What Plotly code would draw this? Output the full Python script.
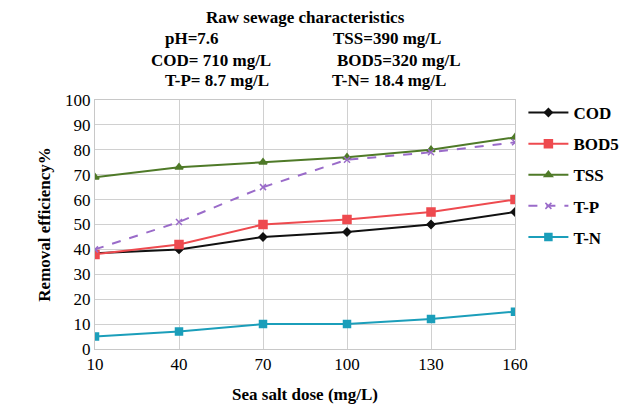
import plotly.graph_objects as go

doses = [10, 40, 70, 100, 130, 160]
cod = [38.5, 40, 45, 47, 50, 55]
bod5 = [38, 42, 50, 52, 55, 60]
tss = [69, 73, 75, 77, 80, 85]
tp = [40, 51, 65, 76, 79, 83]
tn = [5, 7, 10, 10, 12, 15]
y_ticks = list(range(0, 101, 10))

FONT = "Liberation Serif"
W, H = 636, 412
ML, MR, MT, MB = 95, 117, 100, 60
PW, PH = W - ML - MR, H - MT - MB

series = [
    ("COD", cod, "#111111", "diamond", 6, "solid"),
    ("BOD5", bod5, "#EE4A4F", "square", 8, "solid"),
    ("TSS", tss, "#4F7A28", "triangle-up", 7, "solid"),
    ("T-P", tp, "#9A6BC9", "x-thin", 6, "dash"),
    ("T-N", tn, "#1B9EBA", "square", 7, "solid"),
]

fig = go.Figure()
for name, vals, color, sym, size, dash in series:
    fig.add_trace(go.Scatter(
        x=doses, y=vals, name=name, legendgroup=name,
        mode="lines+markers",
        line=dict(color=color, width=2, dash=dash),
        marker=dict(symbol=sym, size=size, color=color,
                    line=dict(color=color, width=1.5)),
    ))

fig.update_layout(
    width=W, height=H,
    margin=dict(l=ML, r=MR, t=MT, b=MB),
    paper_bgcolor="white", plot_bgcolor="white",
    font=dict(family=FONT, color="black"),
    showlegend=True,
    legend=dict(x=1.02, y=1.02, xanchor="left", yanchor="top",
                font=dict(family=FONT, size=17, color="black", weight="bold"),
                tracegroupgap=6, itemwidth=40,
                bgcolor="rgba(0,0,0,0)"),
    xaxis=dict(range=[10, 160], tickvals=doses, ticktext=[str(d) for d in doses],
               showgrid=True, gridcolor="#d0d0d0", gridwidth=1,
               showline=True, linecolor="#c8c8c8", mirror=True,
               zeroline=False, ticks="", tickfont=dict(size=17, family=FONT),
               title=dict(text="Sea salt dose (mg/L)", standoff=14,
                          font=dict(size=17, family=FONT, weight="bold"))),
    yaxis=dict(range=[0, 100], tickvals=y_ticks,
               showgrid=True, gridcolor="#d0d0d0", gridwidth=1,
               showline=True, linecolor="#c8c8c8", mirror=True,
               zeroline=False, ticks="", tickfont=dict(size=17, family=FONT),
               title=dict(text="Removal efficiency%", standoff=10,
                          font=dict(size=17, family=FONT, weight="bold"))),
)

hdr_font = dict(family=FONT, size=17, color="black", weight="bold")
header = [
    ("Raw sewage characteristics", 308, 17),
    ("pH=7.6", 193, 38),
    ("TSS=390 mg/L", 390, 38),
    ("COD= 710 mg/L", 212, 60),
    ("BOD5=320 mg/L", 402, 60),
    ("T-P= 8.7 mg/L", 218, 80),
    ("T-N= 18.4 mg/L", 392, 80),
]
for txt, px, py in header:
    fig.add_annotation(text=txt, x=(px - ML) / PW, y=(H - MB - py) / PH,
                       xref="paper", yref="paper",
                       showarrow=False, font=hdr_font, xanchor="center", yanchor="middle")

fig.write_html("out.html")
